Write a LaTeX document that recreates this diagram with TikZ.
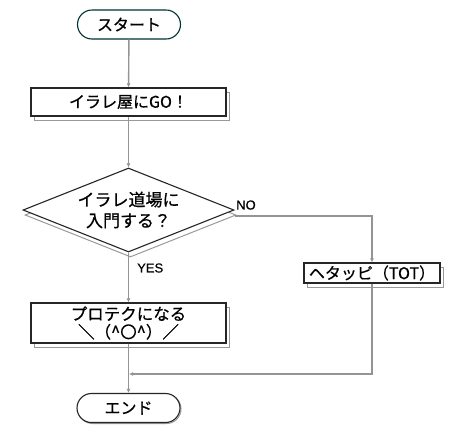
\documentclass[tikz,border=0pt]{standalone}
\usepackage{fontspec}
\setmainfont{Noto Sans CJK JP}[FakeBold=0.7,AutoFakeBold=0.7]
\newfontfamily\latinfont{Liberation Sans}[FakeBold=0.6]
\usetikzlibrary{shapes.geometric,shapes.misc,arrows.meta}
\begin{document}
\begin{tikzpicture}[x=1pt,y=-1pt,
  shadowed/.style={preaction={draw=black!40,line width=1pt,transform canvas={shift={(#1)}}}},
  shadowed/.default={3pt,-4pt},
  base/.style={draw=black!85,fill=white,line width=1.1pt,inner sep=0pt,align=center,
    font=\fontsize{16}{20}\selectfont},
  term/.style={base,rounded rectangle,minimum width=103pt,minimum height=29pt},
  proc/.style={base,rectangle,minimum width=195pt,minimum height=28pt},
  decision/.style={base,diamond,aspect=2.5,minimum width=211pt,minimum height=84pt},
  conn/.style={draw=black!42,line width=1.4pt,-{Latex[length=4pt,width=4pt]}},
  lbl/.style={font=\latinfont\fontsize{13}{15}\selectfont,inner sep=0pt}
]
\useasboundingbox (0,0) rectangle (454,437);

\node[term,draw=black!60!teal] (start) at (129,24.5) {スタート};
\node[proc,shadowed] (box1) at (128.5,102) {イラレ屋にGO！};
\node[decision,shadowed={2pt,-5pt},font=\fontsize{17}{21}\selectfont] (dia) at (128.5,210) {イラレ道場に\\入門する？};
\node[proc,shadowed,minimum height=40pt,font=\fontsize{16.5}{18}\selectfont] (box3) at (128.5,323) {プロテクになる\\＼（\textasciicircum 〇\textasciicircum）／};
\node[proc,shadowed,minimum width=136pt,minimum height=20pt] (hetappi) at (372,273) {ヘタッピ（TOT）};
\node[term,shadowed={1pt,-1pt}] (end) at (128.5,408) {エンド};

\coordinate (join) at (129,374);

\draw[conn] (start) -- (box1);
\draw[conn] (box1) -- (dia);
\draw[conn] (dia.south) -- (box3.north);
\draw[conn] ([yshift=-6pt]dia.east) -| (hetappi.north);
\draw[conn] (hetappi.south) |- (join);
\draw[conn] (box3) -- (end);

\node[lbl,anchor=west] (no) at (236,205) {NO};
\node[lbl,anchor=west] (yes) at (137,268) {YES};
\end{tikzpicture}
\end{document}
